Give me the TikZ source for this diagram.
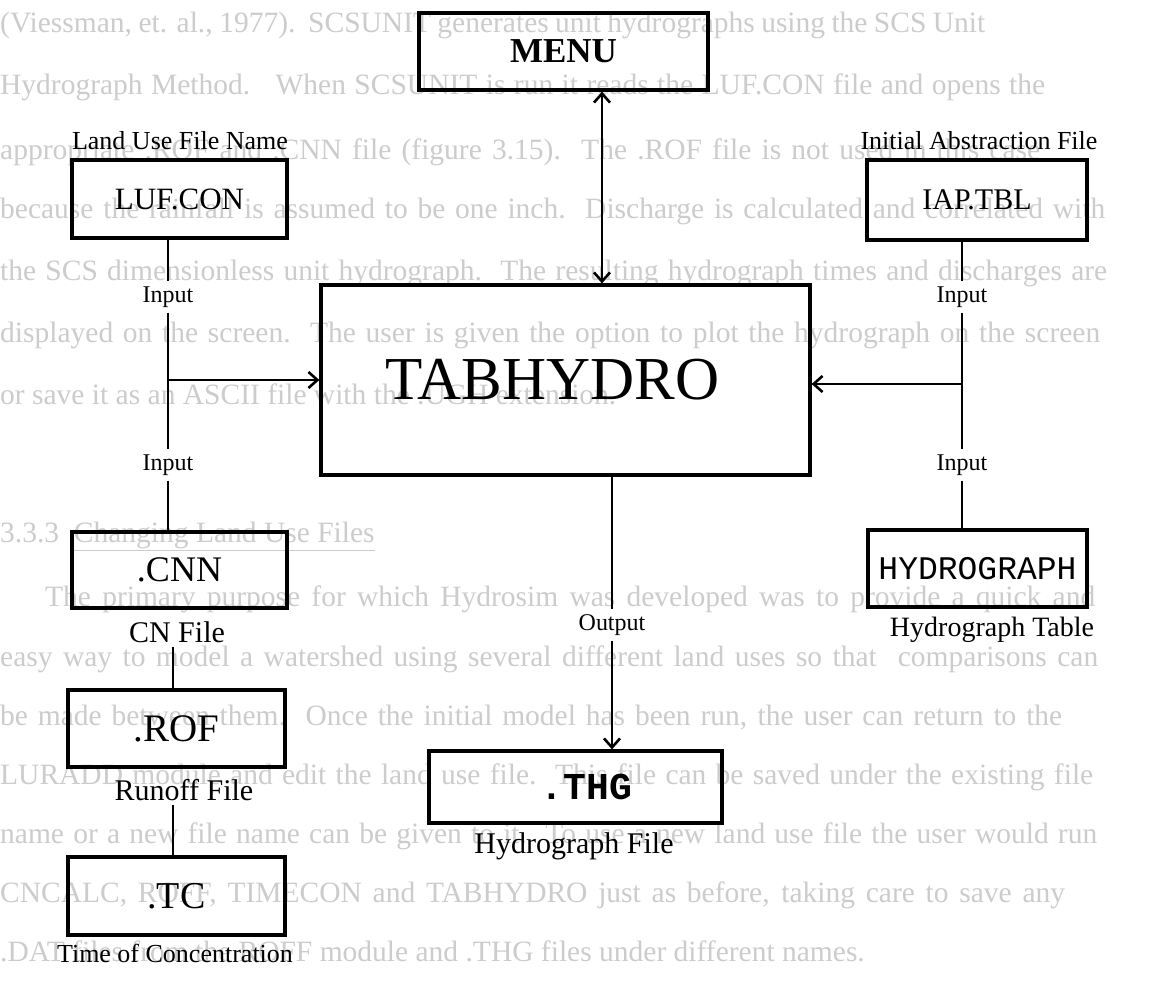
\documentclass[tikz,border=0pt]{standalone}
\usepackage{fontspec}
\setmainfont{Liberation Serif}
\newfontfamily\monofam{Liberation Mono}
\usetikzlibrary{arrows.meta}
\newcommand\setsz[1]{\fontsize{#1}{#1}\selectfont}
% a line of body text spread to a given width
\newcommand\jline[2]{\makebox[#1pt][s]{#2}}
\begin{document}
\begin{tikzpicture}[x=1pt,y=-1pt,
  fbox/.style 2 args={draw, line width=3.2pt, minimum width=#1, minimum height=#2, inner sep=0pt},
  lab/.style={inner sep=4pt, font=\setsz{26}},
  inlab/.style={inner sep=5pt, font=\setsz{24}},
  conn/.style={line width=2.6pt},
  tip/.style={-{Straight Barb[length=9pt,width=16pt]}},
  bgtext/.style={anchor=base west, inner sep=0pt, text=black!20, font=\setsz{29.5}}]
\useasboundingbox (0,0) rectangle (1168,1000);
\fill[white] (0,0) rectangle (1168,1000);

% text of the facing page, faintly showing through
\node[bgtext] (bg1) at (0,33) {\jline{985}{(Viessman, et. al., 1977).\ \ SCSUNIT generates unit hydrographs using the SCS Unit}};
\node[bgtext] (bg2) at (0,95) {\jline{1045}{Hydrograph Method.\ \ \ When SCSUNIT is run it reads the LUF.CON file and opens the}};
\node[bgtext] (bg3) at (0,160) {\jline{1040}{appropriate .ROF and .CNN file (figure 3.15).\ \ The .ROF file is not used in this case}};
\node[bgtext] (bg4) at (0,219) {\jline{1105}{because the rainfall is assumed to be one inch.\ \ Discharge is calculated and correlated with}};
\node[bgtext] (bg5) at (0,281) {\jline{1107}{the SCS dimensionless unit hydrograph.\ \ The resulting hydrograph times and discharges are}};
\node[bgtext] (bg6) at (0,343) {\jline{1100}{displayed on the screen.\ \ The user is given the option to plot the hydrograph on the screen}};
\node[bgtext] (bg7) at (0,405) {or save it as an ASCII file with the .UGH extension.};
\node[bgtext] (bg8) at (0,542) {3.3.3\ \ \underline{Changing Land Use Files}};
\node[bgtext] (bg9) at (45,606) {\jline{1050}{The primary purpose for which Hydrosim was developed was to provide a quick and}};
\node[bgtext] (bg10) at (0,666) {\jline{1098}{easy way to model a watershed using several different land uses so that\ \ comparisons can}};
\node[bgtext] (bg11) at (0,725) {\jline{1062}{be made between them.\ \ Once the initial model has been run, the user can return to the}};
\node[bgtext] (bg12) at (0,784) {\jline{1093}{LURADD module and edit the land use file.\ \ This file can be saved under the existing file}};
\node[bgtext] (bg13) at (0,843) {\jline{1097}{name or a new file name can be given to it.\ \ To use a new land use file the user would run}};
\node[bgtext] (bg14) at (0,902) {\jline{1065}{CNCALC, ROFF, TIMECON and TABHYDRO just as before, taking care to save any}};
\node[bgtext] (bg15) at (0,961) {.DAT files from the ROFF module and .THG files under different names.};

% boxes
\node[fbox={289pt}{77pt}] (menu) at (563.5,51.5) {\setsz{35}\bfseries MENU};
\node[fbox={489pt}{190pt}] (tab) at (565.5,380) {\setsz{61}TABHYDRO\hspace*{26pt}};
\node[fbox={215pt}{78pt}] (luf) at (179.5,199) {\setsz{31}LUF.CON};
\node[fbox={215pt}{76pt}] (cnn) at (179.5,570) {\setsz{36}.CNN};
\node[fbox={217pt}{77pt}] (rof) at (176.5,728.5) {\setsz{39}.ROF};
\node[fbox={217pt}{78pt}] (tc) at (176.5,896) {\setsz{38}.TC};
\node[fbox={220pt}{80pt}] (iap) at (977,200) {\setsz{30}IAP.TBL};
\node[fbox={219pt}{77pt}] (hyd) at (977.5,568.5) {\monofam\setsz{33}HYDROGRAPH};
\node[fbox={293pt}{72pt}] (thg) at (575.5,787) {\hspace*{22pt}\monofam\bfseries\setsz{38}.THG};

% captions
\node[lab] (lufname) at (180,141) {Land Use File Name};
\node[lab] (iapname) at (979,141) {Initial Abstraction File};
\node[lab, font=\setsz{30}] (cnname) at (177,632) {CN File};
\node[lab, font=\setsz{30}] (rofname) at (184,790) {Runoff File};
\node[lab] (tcname) at (175,953) {Time of Concentration};
\node[lab, font=\setsz{28}] (hydname) at (992,630) {Hydrograph Table};
\node[lab, font=\setsz{30}] (thgname) at (574,846) {Hydrograph File};

% connector labels
\node[inlab] (in1) at (168,297) {Input};
\node[inlab] (in2) at (168,465) {Input};
\node[inlab] (in3) at (962,297) {Input};
\node[inlab] (in4) at (962,465) {Input};
\node[inlab] (out) at (612,625) {Output};

% connector columns
\coordinate (mx) at (602,0);
\coordinate (cx) at (173,0);
\coordinate (jl) at (in1 |- tab.west);
\coordinate (jr) at (962,384);

% left trunk
\draw[conn] (in1 |- luf.south) -- (in1.north);
\draw[conn] (in1.south) -- (in2.north);
\draw[conn] (in2.south) -- (in2 |- cnn.north);
\draw[conn, tip] (jl) -- (tab.west);

% right trunk
\draw[conn] (in3 |- iap.south) -- (in3.north);
\draw[conn] (in3.south) -- (in4.north);
\draw[conn] (in4.south) -- (in4 |- hyd.north);
\draw[conn, tip] (jr) -- (jr -| tab.east);

% menu link
\draw[conn, {Straight Barb[length=9pt,width=16pt]}-{Straight Barb[length=9pt,width=16pt]}] (mx |- menu.south) -- (mx |- tab.north);

% output
\draw[conn] (out |- tab.south) -- (out.north);
\draw[conn, tip] (out.south) -- (out |- thg.north);

% chain of intermediate files
\draw[conn] (cx |- cnname.south) -- (cx |- rof.north);
\draw[conn] (cx |- rofname.south) -- (cx |- tc.north);
\end{tikzpicture}
\end{document}
